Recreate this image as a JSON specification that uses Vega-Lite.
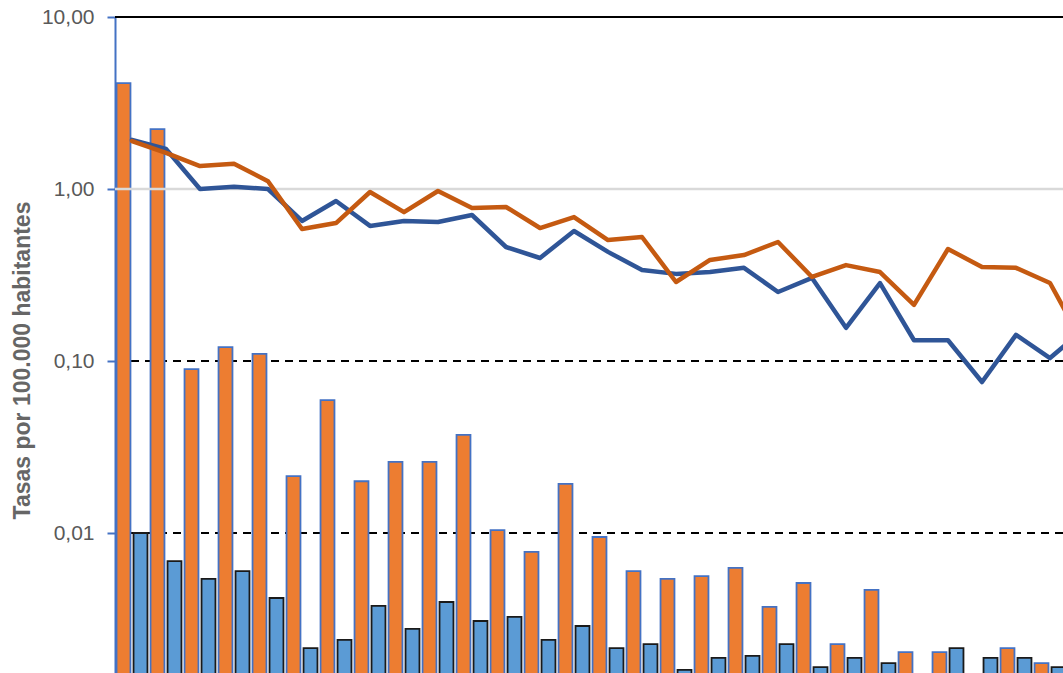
{
  "$schema": "https://vega.github.io/schema/vega-lite/v6.json",
  "autosize": {"type": "none"},
  "padding": {"left": 115, "top": 17, "right": 0, "bottom": 0},
  "width": 948,
  "height": 656,
  "background": "white",
  "config": {"view": {"stroke": null}, "font": "Liberation Sans"},
  "datasets": {
    "barras": [
      {"grupo": 1, "serie": "Serie 1", "valor": 4.13},
      {"grupo": 2, "serie": "Serie 1", "valor": 2.23},
      {"grupo": 3, "serie": "Serie 1", "valor": 0.0898},
      {"grupo": 4, "serie": "Serie 1", "valor": 0.1205},
      {"grupo": 5, "serie": "Serie 1", "valor": 0.110},
      {"grupo": 6, "serie": "Serie 1", "valor": 0.0214},
      {"grupo": 7, "serie": "Serie 1", "valor": 0.0593},
      {"grupo": 8, "serie": "Serie 1", "valor": 0.0200},
      {"grupo": 9, "serie": "Serie 1", "valor": 0.0259},
      {"grupo": 10, "serie": "Serie 1", "valor": 0.0259},
      {"grupo": 11, "serie": "Serie 1", "valor": 0.0372},
      {"grupo": 12, "serie": "Serie 1", "valor": 0.0104},
      {"grupo": 13, "serie": "Serie 1", "valor": 0.00776},
      {"grupo": 14, "serie": "Serie 1", "valor": 0.0193},
      {"grupo": 15, "serie": "Serie 1", "valor": 0.00948},
      {"grupo": 16, "serie": "Serie 1", "valor": 0.00601},
      {"grupo": 17, "serie": "Serie 1", "valor": 0.00541},
      {"grupo": 18, "serie": "Serie 1", "valor": 0.00562},
      {"grupo": 19, "serie": "Serie 1", "valor": 0.00627},
      {"grupo": 20, "serie": "Serie 1", "valor": 0.00372},
      {"grupo": 21, "serie": "Serie 1", "valor": 0.00512},
      {"grupo": 22, "serie": "Serie 1", "valor": 0.00226},
      {"grupo": 23, "serie": "Serie 1", "valor": 0.00467},
      {"grupo": 24, "serie": "Serie 1", "valor": 0.00203},
      {"grupo": 25, "serie": "Serie 1", "valor": 0.00203},
      {"grupo": 27, "serie": "Serie 1", "valor": 0.00214},
      {"grupo": 28, "serie": "Serie 1", "valor": 0.00175},
      {"grupo": 1, "serie": "Serie 2", "valor": 0.0100},
      {"grupo": 2, "serie": "Serie 2", "valor": 0.00687},
      {"grupo": 3, "serie": "Serie 2", "valor": 0.00541},
      {"grupo": 4, "serie": "Serie 2", "valor": 0.00601},
      {"grupo": 5, "serie": "Serie 2", "valor": 0.00419},
      {"grupo": 6, "serie": "Serie 2", "valor": 0.00214},
      {"grupo": 7, "serie": "Serie 2", "valor": 0.00239},
      {"grupo": 8, "serie": "Serie 2", "valor": 0.00377},
      {"grupo": 9, "serie": "Serie 2", "valor": 0.00277},
      {"grupo": 10, "serie": "Serie 2", "valor": 0.00397},
      {"grupo": 11, "serie": "Serie 2", "valor": 0.00308},
      {"grupo": 12, "serie": "Serie 2", "valor": 0.00325},
      {"grupo": 13, "serie": "Serie 2", "valor": 0.00239},
      {"grupo": 14, "serie": "Serie 2", "valor": 0.00288},
      {"grupo": 15, "serie": "Serie 2", "valor": 0.00214},
      {"grupo": 16, "serie": "Serie 2", "valor": 0.00226},
      {"grupo": 17, "serie": "Serie 2", "valor": 0.00160},
      {"grupo": 18, "serie": "Serie 2", "valor": 0.00188},
      {"grupo": 19, "serie": "Serie 2", "valor": 0.00193},
      {"grupo": 20, "serie": "Serie 2", "valor": 0.00226},
      {"grupo": 21, "serie": "Serie 2", "valor": 0.00166},
      {"grupo": 22, "serie": "Serie 2", "valor": 0.00188},
      {"grupo": 23, "serie": "Serie 2", "valor": 0.00175},
      {"grupo": 25, "serie": "Serie 2", "valor": 0.00214},
      {"grupo": 26, "serie": "Serie 2", "valor": 0.00188},
      {"grupo": 27, "serie": "Serie 2", "valor": 0.00188},
      {"grupo": 28, "serie": "Serie 2", "valor": 0.00166}
    ],
    "lineas": [
      {"grupo": 1, "serie": "Serie 3", "valor": 1.93},
      {"grupo": 2, "serie": "Serie 3", "valor": 1.71},
      {"grupo": 3, "serie": "Serie 3", "valor": 1.00},
      {"grupo": 4, "serie": "Serie 3", "valor": 1.03},
      {"grupo": 5, "serie": "Serie 3", "valor": 1.00},
      {"grupo": 6, "serie": "Serie 3", "valor": 0.652},
      {"grupo": 7, "serie": "Serie 3", "valor": 0.852},
      {"grupo": 8, "serie": "Serie 3", "valor": 0.610},
      {"grupo": 9, "serie": "Serie 3", "valor": 0.652},
      {"grupo": 10, "serie": "Serie 3", "valor": 0.643},
      {"grupo": 11, "serie": "Serie 3", "valor": 0.706},
      {"grupo": 12, "serie": "Serie 3", "valor": 0.460},
      {"grupo": 13, "serie": "Serie 3", "valor": 0.397},
      {"grupo": 14, "serie": "Serie 3", "valor": 0.570},
      {"grupo": 15, "serie": "Serie 3", "valor": 0.431},
      {"grupo": 16, "serie": "Serie 3", "valor": 0.338},
      {"grupo": 17, "serie": "Serie 3", "valor": 0.321},
      {"grupo": 18, "serie": "Serie 3", "valor": 0.329},
      {"grupo": 19, "serie": "Serie 3", "valor": 0.348},
      {"grupo": 20, "serie": "Serie 3", "valor": 0.252},
      {"grupo": 21, "serie": "Serie 3", "valor": 0.304},
      {"grupo": 22, "serie": "Serie 3", "valor": 0.156},
      {"grupo": 23, "serie": "Serie 3", "valor": 0.284},
      {"grupo": 24, "serie": "Serie 3", "valor": 0.132},
      {"grupo": 25, "serie": "Serie 3", "valor": 0.132},
      {"grupo": 26, "serie": "Serie 3", "valor": 0.0755},
      {"grupo": 27, "serie": "Serie 3", "valor": 0.142},
      {"grupo": 28, "serie": "Serie 3", "valor": 0.104},
      {"grupo": 29, "serie": "Serie 3", "valor": 0.153},
      {"grupo": 1, "serie": "Serie 4", "valor": 1.90},
      {"grupo": 2, "serie": "Serie 4", "valor": 1.62},
      {"grupo": 3, "serie": "Serie 4", "valor": 1.36},
      {"grupo": 4, "serie": "Serie 4", "valor": 1.40},
      {"grupo": 5, "serie": "Serie 4", "valor": 1.11},
      {"grupo": 6, "serie": "Serie 4", "valor": 0.585},
      {"grupo": 7, "serie": "Serie 4", "valor": 0.634},
      {"grupo": 8, "serie": "Serie 4", "valor": 0.961},
      {"grupo": 9, "serie": "Serie 4", "valor": 0.734},
      {"grupo": 10, "serie": "Serie 4", "valor": 0.974},
      {"grupo": 11, "serie": "Serie 4", "valor": 0.776},
      {"grupo": 12, "serie": "Serie 4", "valor": 0.786},
      {"grupo": 13, "serie": "Serie 4", "valor": 0.593},
      {"grupo": 14, "serie": "Serie 4", "valor": 0.687},
      {"grupo": 15, "serie": "Serie 4", "valor": 0.505},
      {"grupo": 16, "serie": "Serie 4", "valor": 0.526},
      {"grupo": 17, "serie": "Serie 4", "valor": 0.288},
      {"grupo": 18, "serie": "Serie 4", "valor": 0.387},
      {"grupo": 19, "serie": "Serie 4", "valor": 0.413},
      {"grupo": 20, "serie": "Serie 4", "valor": 0.492},
      {"grupo": 21, "serie": "Serie 4", "valor": 0.308},
      {"grupo": 22, "serie": "Serie 4", "valor": 0.361},
      {"grupo": 23, "serie": "Serie 4", "valor": 0.329},
      {"grupo": 24, "serie": "Serie 4", "valor": 0.212},
      {"grupo": 25, "serie": "Serie 4", "valor": 0.448},
      {"grupo": 26, "serie": "Serie 4", "valor": 0.352},
      {"grupo": 27, "serie": "Serie 4", "valor": 0.348},
      {"grupo": 28, "serie": "Serie 4", "valor": 0.284},
      {"grupo": 29, "serie": "Serie 4", "valor": 0.124}
    ]
  },
  "layer": [
    {
      "data": {"values": [{"valor": 0.1}, {"valor": 0.01}]},
      "mark": {"type": "rule", "color": "#000000", "strokeWidth": 2, "strokeDash": [8, 6]},
      "encoding": {
        "y": {
          "field": "valor",
          "type": "quantitative",
          "scale": {"type": "log", "domain": [0.001535, 10], "nice": false},
          "axis": {
            "values": [10, 1, 0.1, 0.01],
            "labelExpr": "replace(format(datum.value, '.2f'), '.', ',')",
            "domainColor": "#4472C4",
            "domainWidth": 2,
            "tickColor": "#4472C4",
            "tickWidth": 2,
            "tickSize": 8,
            "labelFontSize": 21,
            "labelColor": "#595959",
            "labelPadding": 13,
            "grid": false,
            "title": "Tasas por 100.000 habitantes",
            "titleFontSize": 23,
            "titleFontWeight": "bold",
            "titleColor": "#666666",
            "titlePadding": 7,
            "titleY": 343
          }
        }
      }
    },
    {
      "data": {"values": [{"valor": 10}]},
      "mark": {"type": "rule", "color": "#000000", "strokeWidth": 2},
      "encoding": {
        "y": {"field": "valor", "type": "quantitative", "title": "Tasas por 100.000 habitantes"}
      }
    },
    {
      "data": {"name": "barras"},
      "mark": {"type": "bar", "clip": true, "strokeWidth": 1.8},
      "encoding": {
        "x": {
          "field": "grupo",
          "type": "ordinal",
          "axis": null,
          "scale": {"range": [0, 986], "paddingInner": 0, "paddingOuter": 0}
        },
        "xOffset": {
          "field": "serie",
          "type": "nominal",
          "sort": ["Serie 1", "Serie 2"],
          "scale": {"paddingInner": 0.18, "paddingOuter": 0.09}
        },
        "y": {"field": "valor", "type": "quantitative", "title": "Tasas por 100.000 habitantes"},
        "y2": {"datum": 0.001},
        "color": {
          "field": "serie",
          "type": "nominal",
          "legend": null,
          "scale": {
            "domain": ["Serie 1", "Serie 2", "Serie 3", "Serie 4"],
            "range": ["#ED7D31", "#5B9BD5", "#2F5597", "#C55A11"]
          }
        },
        "stroke": {
          "field": "serie",
          "type": "nominal",
          "legend": null,
          "scale": {"domain": ["Serie 1", "Serie 2"], "range": ["#4472C4", "#1A1A1A"]}
        }
      }
    },
    {
      "data": {"values": [{"valor": 1}]},
      "mark": {"type": "rule", "color": "#D9D9D9", "strokeWidth": 2.5},
      "encoding": {
        "y": {"field": "valor", "type": "quantitative", "title": "Tasas por 100.000 habitantes"}
      }
    },
    {
      "data": {"name": "lineas"},
      "mark": {"type": "line", "clip": true, "strokeWidth": 4.5, "strokeJoin": "round", "strokeCap": "round"},
      "encoding": {
        "x": {
          "field": "grupo",
          "type": "ordinal",
          "axis": null,
          "scale": {"range": [0, 986], "paddingInner": 0, "paddingOuter": 0}
        },
        "y": {"field": "valor", "type": "quantitative", "title": "Tasas por 100.000 habitantes"},
        "color": {
          "field": "serie",
          "type": "nominal",
          "legend": null,
          "scale": {
            "domain": ["Serie 1", "Serie 2", "Serie 3", "Serie 4"],
            "range": ["#ED7D31", "#5B9BD5", "#2F5597", "#C55A11"]
          }
        }
      }
    }
  ]
}
